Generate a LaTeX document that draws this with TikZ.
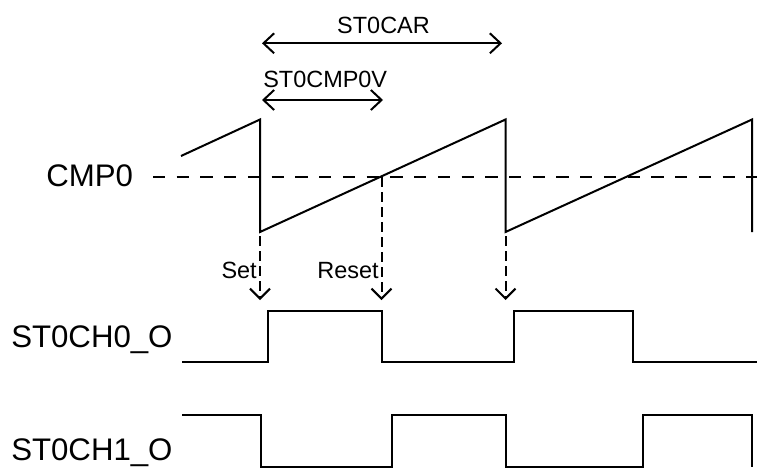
\documentclass[tikz,border=0pt]{standalone}
\usepackage{fontspec}
\setmainfont{Liberation Sans}
\usetikzlibrary{arrows.meta}
\begin{document}
\begin{tikzpicture}[x=0.75pt,y=-0.75pt,
  wave/.style={line width=1.5pt,line join=miter},
  refline/.style={line width=1.5pt,dash pattern=on 9.2pt off 8.6pt},
  droparrow/.style={line width=1.5pt,dash pattern=on 7.5pt off 3.75pt,-{Straight Barb[length=7.5pt,width=15pt,line width=1.5pt]}},
  spanarrow/.style={line width=1.5pt,{Straight Barb[length=8pt,width=15pt,line width=1.5pt]}-{Straight Barb[length=8pt,width=15pt,line width=1.5pt]}},
  biglabel/.style={inner sep=0pt,font=\fontsize{23.4}{28}\selectfont},
  smalllabel/.style={inner sep=0pt,font=\fontsize{17.6}{21}\selectfont}]
\useasboundingbox (0,0) rectangle (757,468);

% labels
\node[biglabel,anchor=base west] (cmp) at (46,186) {CMP0};
\node[biglabel,anchor=base west] (ch0) at (11,347.7) {ST0CH0\_O};
\node[biglabel,anchor=base west] (ch1) at (11,460) {ST0CH1\_O};
\node[smalllabel,anchor=base] (car) at (383.5,33.3) {ST0CAR};
\node[smalllabel,anchor=base west] (cmpv) at (263,87.3) {ST0CMP0V};
\node[smalllabel,anchor=base east] (set) at (257,278.3) {Set};
\node[smalllabel,anchor=base east] (reset) at (379,278.3) {Reset};

% coordinates
\coordinate (carL) at (262,43.3);
\coordinate (carR) at (502,43.3);
\coordinate (vL) at (262,100);
\coordinate (vR) at (383,100);
\coordinate (cmpS) at (153,177);
\coordinate (cmpE) at (757,177);
\coordinate (a1s) at (260,236);
\coordinate (a1e) at (260,300);
\coordinate (a2s) at (381.5,177);
\coordinate (a2e) at (381.5,300);
\coordinate (a3s) at (505.5,236);
\coordinate (a3e) at (505.5,300);

% span arrows
\draw[spanarrow] (carL) -- (carR);
\draw[spanarrow] (vL) -- (vR);

% compare level
\draw[refline] (cmpS) -- (cmpE);

% sawtooth
\draw[wave] (181,156) -- (260,119.5) -- (260,232) -- (505.5,119.5) -- (505.5,232) -- (752,119.5) -- (752,232);

% drop arrows
\draw[droparrow] (a1s) -- (a1e);
\draw[droparrow] (a2s) -- (a2e);
\draw[droparrow] (a3s) -- (a3e);

% ST0CH0_O
\draw[wave] (182,362) -- (268,362) -- (268,311) -- (381.5,311) -- (381.5,362) -- (514,362) -- (514,311) -- (632.5,311) -- (632.5,362) -- (757,362);

% ST0CH1_O
\draw[wave] (182,415) -- (260.5,415) -- (260.5,466.7) -- (392,466.7) -- (392,415) -- (505.5,415) -- (505.5,466.7) -- (643,466.7) -- (643,415) -- (752,415) -- (752,466.7);
\end{tikzpicture}
\end{document}
